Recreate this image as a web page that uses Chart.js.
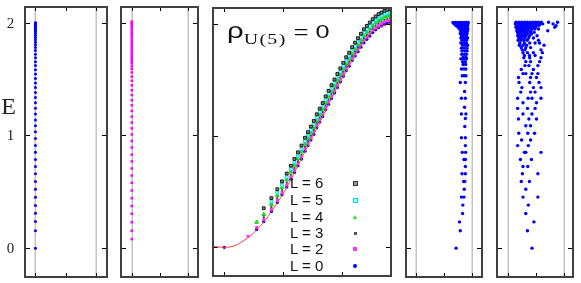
<!DOCTYPE html>
<html>
<head>
<meta charset="utf-8">
<script src="https://cdn.jsdelivr.net/npm/chart.js@4.4.1/dist/chart.umd.min.js"></script>
<style>
  body { margin: 0; background: #fff; width: 581px; height: 283px; position: relative; overflow: hidden; }
  canvas { position: absolute; top: 2px; }
  .row { position: absolute; left: 290px; height: 18px; line-height: 18px; font: 15px "Liberation Sans", sans-serif; color: #111; white-space: nowrap; }
  .mk { position: absolute; box-sizing: border-box; }
  #title { position: absolute; left: 227px; top: 18px; line-height: 24px; font: 19px "Liberation Sans", sans-serif; color: #111; white-space: nowrap; transform: scaleX(1.33); transform-origin: left center; }
  #title .rho { font-size: 22px; }
  #title .sub { font: 15px "Liberation Serif", serif; position: relative; top: 6px; letter-spacing: 1px; }
</style>
</head>
<body>
<canvas id="p1" width="112" height="280" style="left:0px"></canvas>
<canvas id="p2" width="87" height="280" style="left:116px"></canvas>
<canvas id="p3" width="190" height="280" style="left:207px"></canvas>
<canvas id="p4" width="86" height="280" style="left:401px"></canvas>
<canvas id="p5" width="86" height="280" style="left:492px"></canvas>

<div id="title"><span class="rho">ρ</span><span class="sub">U(5)</span> = 0</div>

<div class="row" style="top:174px">L = 6</div>
<div class="row" style="top:191px">L = 5</div>
<div class="row" style="top:208px">L = 4</div>
<div class="row" style="top:224px">L = 3</div>
<div class="row" style="top:240px">L = 2</div>
<div class="row" style="top:257px">L = 0</div>
<div class="mk" style="left:353px;top:181px;width:5px;height:5px;background:#999;border:1px solid #333"></div>
<div class="mk" style="left:353px;top:198px;width:5px;height:5px;background:#b0ffff;border:1px solid #00e0e0"></div>
<div class="mk" style="left:353px;top:215px;width:0;height:0;border-left:2.5px solid transparent;border-right:2.5px solid transparent;border-bottom:4px solid #22dd22"></div>
<div class="mk" style="left:354px;top:232px;width:3px;height:3px;background:#555"></div>
<div class="mk" style="left:353px;top:247px;width:4px;height:4px;background:#ff33ff"></div>
<div class="mk" style="left:353px;top:264px;width:4px;height:4px;border-radius:2px;background:#0000ff"></div>

<script>
'use strict';

var eTicks = [0, 1, 2];
var yMin = -0.265;
var yMax = 2.149;

// left column, L = 0 levels
var levelsA = [0, 0.155, 0.236, 0.310, 0.379, 0.451, 0.523, 0.592, 0.661, 0.724, 0.787, 0.851, 0.911,
  0.974, 1.032, 1.086, 1.138, 1.190, 1.241, 1.290, 1.336, 1.382, 1.425, 1.466, 1.506, 1.546, 1.583,
  1.621, 1.655, 1.690, 1.721, 1.753, 1.780, 1.805, 1.828, 1.850, 1.870, 1.888, 1.905, 1.920, 1.934,
  1.947, 1.958, 1.968, 1.977, 1.985, 1.992, 1.998, 2.0];

// second column, L = 2 levels
var levelsB = [0.080, 0.155, 0.230, 0.305, 0.374, 0.443, 0.512, 0.580, 0.644, 0.707, 0.770, 0.830,
  0.894, 0.951, 1.009, 1.063, 1.115, 1.167, 1.218, 1.267, 1.313, 1.359, 1.402, 1.445, 1.485, 1.522,
  1.559, 1.591, 1.615, 1.64, 1.66, 1.68, 1.70, 1.72, 1.74, 1.76, 1.78, 1.80, 1.82, 1.84, 1.86, 1.88,
  1.90, 1.92, 1.94, 1.96, 1.975, 1.99, 2.0, 2.01];

// middle panel
var eta = [0, 0.40, 0.55, 0.67, 0.80, 0.90, 0.98, 1.06, 1.13, 1.19, 1.25, 1.31, 1.37, 1.42, 1.47,
  1.52, 1.57, 1.62, 1.67, 1.72, 1.77, 1.82, 1.87, 1.92, 1.97, 2.02, 2.07, 2.12, 2.17, 2.22, 2.27,
  2.32, 2.37, 2.42, 2.47, 2.52, 2.57, 2.62, 2.67, 2.72, 2.77, 2.82];
var energyL0 = [0, null, 0.16, 0.23, 0.32, 0.40, 0.47, 0.54, 0.61, 0.67, 0.73, 0.79, 0.86, 0.91, 0.96,
  1.01, 1.07, 1.12, 1.17, 1.23, 1.28, 1.33, 1.38, 1.43, 1.48, 1.53, 1.58, 1.62, 1.67, 1.71, 1.75,
  1.79, 1.83, 1.86, 1.89, 1.92, 1.945, 1.965, 1.98, 1.995, 2.005, 2.01];
var energyL2 = [null, 0.10, 0.18, 0.25, 0.34, 0.42, 0.49, 0.56, 0.63, 0.69, 0.75, 0.81, 0.88, 0.93, 0.98,
  1.03, 1.09, 1.14, 1.19, 1.25, 1.30, 1.35, 1.40, 1.45, 1.50, 1.55, 1.60, 1.64, 1.69, 1.73, 1.77,
  1.81, 1.85, 1.88, 1.91, 1.94, 1.965, 1.985, 2.00, 2.015, 2.025, 2.03];
var energyL3 = [null, null, null, 0.27, 0.36, 0.44, 0.51, 0.58, 0.65, 0.71, 0.77, 0.83, 0.90, 0.95, 1.00,
  1.05, 1.11, 1.16, 1.21, 1.27, 1.32, 1.37, 1.42, 1.47, 1.52, 1.57, 1.62, 1.66, 1.71, 1.75, 1.79,
  1.83, 1.87, 1.90, 1.93, 1.96, 1.985, 2.005, 2.02, 2.035, 2.045, 2.05];
var energyL4 = [null, null, 0.225, 0.295, 0.385, 0.465, 0.535, 0.605, 0.675, 0.735, 0.795, 0.855, 0.925,
  0.975, 1.025, 1.075, 1.135, 1.185, 1.235, 1.295, 1.345, 1.395, 1.445, 1.495, 1.545, 1.595, 1.645,
  1.685, 1.735, 1.775, 1.815, 1.855, 1.895, 1.925, 1.955, 1.985, 2.01, 2.03, 2.045, 2.06, 2.07, 2.075];
var energyL5 = [null, null, null, null, 0.41, 0.49, 0.56, 0.63, 0.70, 0.76, 0.82, 0.88, 0.95, 1.00, 1.05,
  1.10, 1.16, 1.21, 1.26, 1.32, 1.37, 1.42, 1.47, 1.52, 1.57, 1.62, 1.67, 1.71, 1.76, 1.80, 1.84,
  1.88, 1.92, 1.95, 1.98, 2.01, 2.035, 2.055, 2.07, 2.085, 2.095, 2.10];
var energyL6 = [null, null, null, 0.35, 0.44, 0.52, 0.59, 0.66, 0.73, 0.79, 0.85, 0.91, 0.98, 1.03, 1.08,
  1.13, 1.19, 1.24, 1.29, 1.35, 1.40, 1.45, 1.50, 1.55, 1.60, 1.65, 1.70, 1.74, 1.79, 1.83, 1.87,
  1.91, 1.95, 1.98, 2.01, 2.04, 2.065, 2.085, 2.10, 2.115, 2.125, 2.13];
var curveX = [-0.21, -0.1, 0, 0.1, 0.2, 0.3, 0.4, 0.5, 0.6, 0.7, 0.8, 0.9, 1.0, 1.2, 1.5, 2.0, 2.5, 2.85];
var curveE = [0.012, 0.003, 0, 0.004, 0.02, 0.05, 0.085, 0.13, 0.185, 0.245, 0.32, 0.40, 0.48, 0.68, 0.99, 1.51, 1.92, 2.01];

// fourth panel, one row per level
var levelsC = [2.003, 1.99, 1.975, 1.96, 1.945, 1.925, 1.905, 1.885, 1.865, 1.845, 1.82, 1.80, 1.775,
  1.75, 1.72, 1.695, 1.68, 1.655, 1.63, 1.59, 1.53, 1.47, 1.39, 1.33, 1.25, 1.19, 1.15, 1.08, 0.98,
  0.91, 0.85, 0.787, 0.724, 0.66, 0.591, 0.522, 0.453, 0.382, 0.307, 0.233, 0.155, 0];
var spreadC = [
  [1.32, 1.40, 1.48, 1.56, 1.64, 1.72, 1.80, 1.86], [1.36, 1.46, 1.54, 1.62, 1.70, 1.78, 1.85],
  [1.42, 1.52, 1.60, 1.68, 1.76, 1.84], [1.50, 1.58, 1.66, 1.74, 1.82], [1.55, 1.63, 1.71, 1.79, 1.85],
  [1.60, 1.68, 1.76, 1.83], [1.58, 1.66, 1.74, 1.82], [1.62, 1.70, 1.80], [1.60, 1.68, 1.76, 1.84],
  [1.64, 1.72, 1.80], [1.60, 1.70, 1.80], [1.66, 1.76, 1.84], [1.62, 1.72, 1.82], [1.64, 1.74, 1.82],
  [1.63, 1.72, 1.80], [1.68, 1.78], [1.60, 1.70, 1.80], [1.66, 1.76], [1.68, 1.77], [1.62, 1.71, 1.78],
  [1.65, 1.72, 1.78], [1.58, 1.76], [1.73], [1.62, 1.76], [1.73], [1.62, 1.78], [1.76], [1.74],
  [1.62, 1.76], [1.76], [1.65, 1.77], [1.71, 1.76], [1.76], [1.64, 1.76], [1.70, 1.74], [1.72],
  [1.62, 1.71], [1.67], [1.66], [1.55], [1.58], [1.43]];

// fifth panel, one row per level
var levelsD = [2.005, 1.99, 1.975, 1.96, 1.945, 1.93, 1.915, 1.90, 1.885, 1.865, 1.845, 1.82, 1.80,
  1.78, 1.76, 1.735, 1.71, 1.69, 1.655, 1.62, 1.586, 1.549, 1.514, 1.47, 1.425, 1.385, 1.33, 1.29,
  1.24, 1.19, 1.146, 1.086, 1.02, 0.96, 0.91, 0.85, 0.787, 0.724, 0.66, 0.591, 0.522, 0.453, 0.382,
  0.307, 0.233, 0.155, 0];
var spreadD = [
  [0.30, 0.40, 0.50, 0.60, 0.70, 0.80, 0.90, 1.00, 1.10, 1.20, 1.46, 1.78],
  [0.28, 0.36, 0.45, 0.55, 0.65, 0.75, 0.85, 0.95, 1.05, 1.15, 1.25, 1.62],
  [0.32, 0.42, 0.50, 0.60, 0.70, 0.80, 0.92, 1.02, 1.12, 1.73],
  [0.30, 0.38, 0.47, 0.57, 0.67, 0.78, 0.88, 1.00, 1.68],
  [0.35, 0.44, 0.53, 0.63, 0.74, 0.86, 0.97, 1.10], [0.33, 0.42, 0.50, 0.60, 0.72, 0.84, 1.43],
  [0.36, 0.46, 0.56, 0.66, 0.80, 0.95], [0.38, 0.48, 0.58, 0.70, 0.85],
  [0.36, 0.45, 0.55, 0.65, 0.78, 1.05], [0.40, 0.50, 0.62, 0.75, 0.92], [0.38, 0.48, 0.58, 0.70, 1.10],
  [0.44, 0.60, 0.79, 0.98, 1.14], [0.42, 0.55, 0.68, 1.30], [0.49, 0.65, 0.82], [0.52, 0.62, 1.19],
  [0.55, 0.71, 0.92, 1.24], [0.60, 0.78, 0.98], [0.58, 0.79, 1.19], [0.65, 0.82, 1.14],
  [0.62, 0.76, 1.08], [0.49, 0.92], [0.55, 0.65, 0.87, 1.08], [0.39, 0.82, 1.03], [0.41, 0.79, 1.12],
  [0.51, 0.92, 1.19], [0.47, 0.82, 0.98], [0.36, 0.73, 0.87, 1.19], [0.55, 1.03], [0.36, 0.71, 0.98],
  [0.55, 0.87], [0.39, 0.76, 1.03], [0.65, 0.82], [0.40, 0.72, 0.96], [0.50, 0.82], [0.36, 0.74],
  [0.60, 0.65, 1.19], [0.46, 0.85], [0.55, 0.72], [0.53, 1.08], [0.49, 0.78], [0.65], [0.55, 1.08],
  [0.74], [0.65], [0.94], [0.71], [0.87]];

function column(levels) {
  return levels.map(function(e) { return { x: 0, y: e }; });
}

function pairs(xs, ys) {
  var out = [];
  for (var i = 0; i < xs.length && i < ys.length; i++) {
    if (ys[i] !== null) out.push({ x: xs[i], y: ys[i] });
  }
  return out;
}

function rowPoints(levels, xs) {
  var out = [];
  for (var i = 0; i < levels.length; i++) {
    for (var j = 0; j < xs[i].length; j++) {
      out.push({ x: xs[i][j], y: levels[i] });
    }
  }
  return out;
}

// frame, inward ticks and the two grey guide lines, drawn from the scales
var framePlugin = {
  id: 'frame',
  beforeDatasetsDraw: function(chart, args, opts) {
    if (!opts.grid) return;
    var ctx = chart.ctx, ca = chart.chartArea, xs = chart.scales.x;
    ctx.save();
    ctx.strokeStyle = '#c4c4c4';
    ctx.lineWidth = 1.5;
    [0, 2].forEach(function(v) {
      var px = Math.round(xs.getPixelForValue(v)) + 0.25;
      ctx.beginPath();
      ctx.moveTo(px, ca.top);
      ctx.lineTo(px, ca.bottom);
      ctx.stroke();
    });
    ctx.restore();
  },
  afterDatasetsDraw: function(chart, args, opts) {
    var ctx = chart.ctx, ca = chart.chartArea;
    var xs = chart.scales.x, ys = chart.scales.y;
    ctx.save();
    ctx.strokeStyle = '#000';
    ctx.lineWidth = 1;
    ctx.beginPath();
    eTicks.forEach(function(v) {
      var px = Math.round(xs.getPixelForValue(v)) + 0.5;
      ctx.moveTo(px, ca.top); ctx.lineTo(px, ca.top + 5);
      ctx.moveTo(px, ca.bottom); ctx.lineTo(px, ca.bottom - 5);
      var py = Math.round(ys.getPixelForValue(v)) + 0.5;
      ctx.moveTo(ca.left, py); ctx.lineTo(ca.left + 6, py);
      ctx.moveTo(ca.right, py); ctx.lineTo(ca.right - 6, py);
    });
    ctx.stroke();
    ctx.strokeStyle = '#404040';
    ctx.lineWidth = 2;
    ctx.strokeRect(ca.left + 1, ca.top + 1, ca.right - ca.left - 2, ca.bottom - ca.top - 2);
    if (opts.axisLabels) {
      ctx.fillStyle = '#222';
      ctx.textAlign = 'center';
      ctx.textBaseline = 'middle';
      ctx.font = '15px "Liberation Serif", serif';
      eTicks.forEach(function(v) {
        ctx.fillText(String(v), 10.5, ys.getPixelForValue(v) + 1);
      });
      ctx.font = '24px "Liberation Serif", serif';
      ctx.fillText('E', 8.5, 106);
    }
    ctx.restore();
  }
};

function makePanel(id, xMin, xMax, datasets, opts) {
  var ctx = document.getElementById(id).getContext('2d');
  return new Chart(ctx, {
    type: 'scatter',
    data: { datasets: datasets },
    options: {
      responsive: false,
      animation: false,
      events: [],
      layout: { padding: { left: opts.padLeft || 0, right: 0, top: 0, bottom: 0 } },
      scales: {
        x: { type: 'linear', display: false, min: xMin, max: xMax },
        y: { type: 'linear', display: false, min: yMin, max: yMax }
      },
      plugins: {
        legend: { display: false },
        tooltip: { enabled: false },
        frame: { grid: opts.grid, axisLabels: opts.axisLabels }
      }
    },
    plugins: [framePlugin]
  });
}

function dots(data, style, radius, fill, border) {
  return {
    data: data,
    pointStyle: style,
    pointRadius: radius,
    pointBackgroundColor: fill,
    pointBorderColor: border || fill,
    pointBorderWidth: border ? 1 : 0
  };
}

makePanel('p1', -0.379, 2.40, [dots(column(levelsA), 'circle', 1.5, '#0000ff')],
  { padLeft: 24, grid: true, axisLabels: true });

makePanel('p2', -0.419, 2.387, [dots(column(levelsB), 'rect', 1.8, '#ff00ff')],
  { grid: true });

makePanel('p3', -0.209, 2.848, [
  {
    data: pairs(curveX, curveE),
    showLine: true,
    borderColor: '#ff4040',
    borderWidth: 1,
    pointRadius: 0,
    cubicInterpolationMode: 'monotone'
  },
  dots(pairs(eta, energyL6), 'rect', 2, '#8a8a8a', '#1a1a1a'),
  dots(pairs(eta, energyL5), 'rect', 2, '#a8ffff', '#00e0e0'),
  dots(pairs(eta, energyL4), 'triangle', 2.2, '#22ee22', '#11cc11'),
  dots(pairs(eta, energyL3), 'rect', 1.4, '#444444'),
  dots(pairs(eta, energyL2), 'rect', 2, '#ff33ff'),
  dots(pairs(eta, energyL0), 'circle', 1.7, '#0000ff')
], { grid: false });

makePanel('p4', -0.387, 2.387, [dots(rowPoints(levelsC, spreadC), 'circle', 1.7, '#0000ff')],
  { grid: true });

makePanel('p5', -0.41, 2.365, [dots(rowPoints(levelsD, spreadD), 'circle', 1.7, '#0000ff')],
  { grid: true });
</script>
</body>
</html>
